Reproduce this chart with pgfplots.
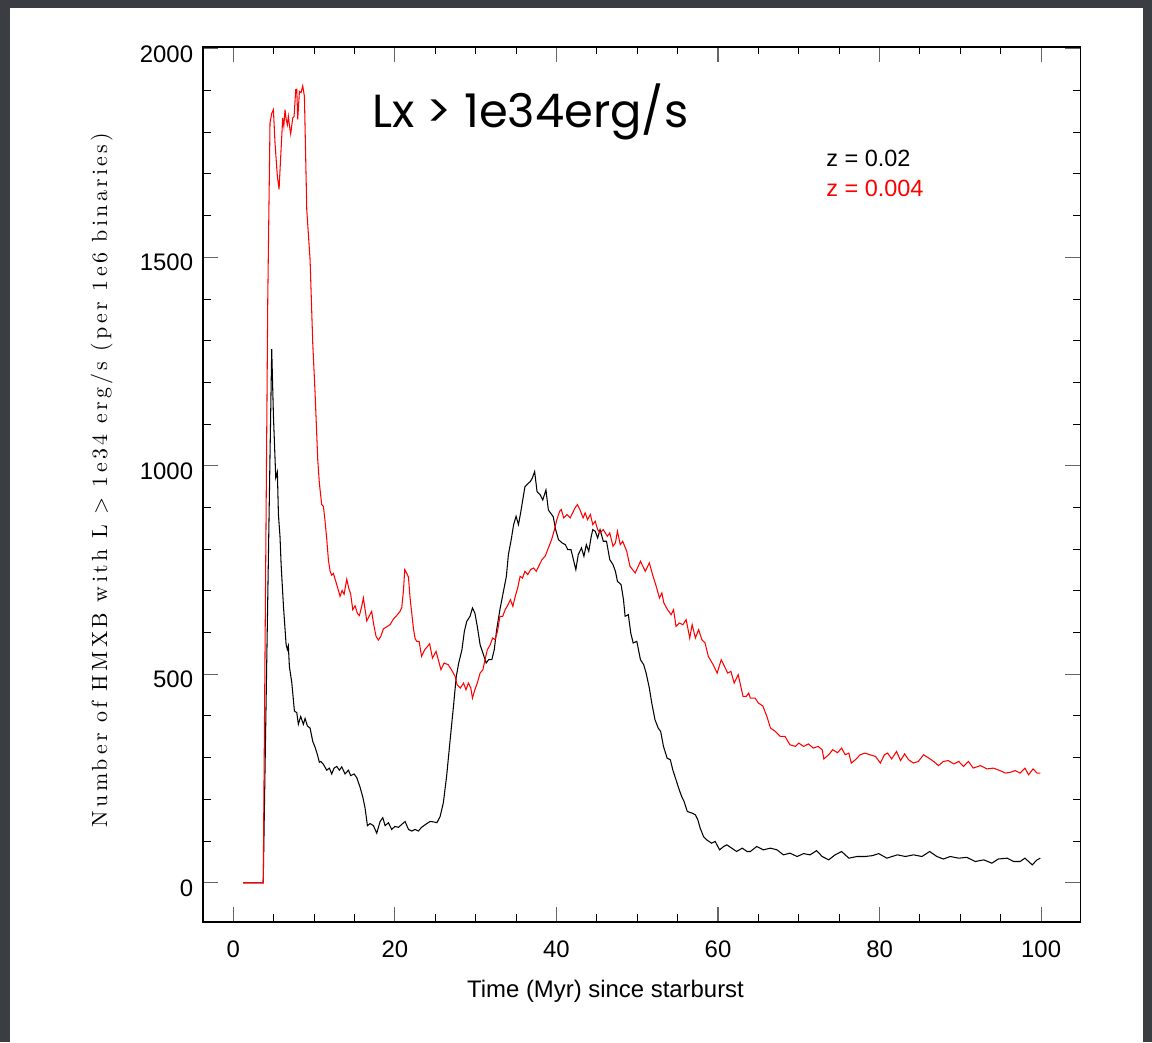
\documentclass[border=0pt]{standalone}
\usepackage{fontspec}
\usepackage{pgfplots}
\pgfplotsset{compat=1.18}
\newfontfamily\helv{Liberation Sans}
\newfontfamily\titlefont{Poppins}
\newfontfamily\lmspaced{lmroman10-regular.otf}[LetterSpace=15]

\begin{document}
\begin{tikzpicture}
% slide background (units of reference pixels)
\begin{scope}[x=0.025cm, y=0.025cm]
\fill[fill={rgb,255:red,58;green,61;blue,66}] (0,0) rectangle (1152,1042);
\fill[white] (10,0) rectangle (1143,1034);
\end{scope}

\begin{axis}[
  at={(5.075cm,3.0cm)}, anchor=south west,
  scale only axis,
  width=21.925cm, height=21.875cm,
  xmin=-3.75, xmax=104.85,
  ymin=-94, ymax=2005,
  xtick={0,20,...,100},
  ytick={0,500,...,2000},
  minor x tick num=3,
  minor y tick num=4,
  major tick length=0.375cm,
  minor tick length=0.19cm,
  major tick style={line width=0.8pt, black!60},
  minor tick style={line width=0.7pt, black},
  axis line style={line width=1.1pt},
  tick label style={font=\helv\fontsize{17}{20}\selectfont},
  /pgf/number format/assume math mode=true,
  /pgf/number format/1000 sep={},
  yticklabel style={xshift=-0.125cm, yshift=-0.125cm},
  xticklabel style={yshift=-0.35cm},
  clip=true,
]
% z = 0.02
\addplot[black, line width=0.75pt] coordinates {
(1.2,0) (3.7,0) (4.75,1280) (4.96,1122) (5.25,971) (5.45,985) (5.58,884) (5.78,829)
(5.91,765) (6.2,664) (6.53,572) (6.69,559) (6.81,568) (6.94,518) (7.23,481) (7.56,412)
(7.85,408) (8.05,380) (8.34,399) (8.67,380) (8.88,394) (9.17,376) (9.5,371) (9.83,339)
(10.12,325) (10.41,307) (10.65,289) (10.82,291) (11.15,284) (11.56,270) (11.89,275)
(12.18,261) (12.47,275) (12.8,279) (13.13,270) (13.42,278) (13.83,261) (14.25,270)
(14.53,257) (14.95,261) (15.28,252) (15.69,229) (16.02,206) (16.31,179) (16.6,137)
(16.93,142) (17.34,137) (17.75,119) (18.17,147) (18.5,156) (18.79,137) (19.2,144)
(19.6,128) (20.0,135) (20.44,133) (20.85,140) (21.26,147) (21.68,128) (22.09,124)
(22.5,128) (22.9,124) (23.3,133) (23.95,142) (24.36,147) (24.8,146) (25.2,144)
(25.6,159) (26.0,192) (26.4,255) (26.8,335) (27.25,423) (27.6,495) (27.9,527)
(28.3,559) (28.6,603) (28.9,627) (29.3,639) (29.6,659) (29.9,647) (30.2,615)
(30.55,571) (30.96,547) (31.3,527) (31.6,535) (32.0,535) (32.3,559) (32.6,607)
(33.0,655) (33.4,695) (33.8,735) (34.05,787) (34.4,823) (34.7,859) (35.0,879)
(35.3,859) (35.6,891) (35.8,915) (36.1,950) (36.5,958) (36.75,962) (37.0,970)
(37.3,986) (37.6,938) (38.0,930) (38.3,918) (38.7,942) (39.0,894) (39.3,886)
(39.6,878) (39.9,847) (40.25,823) (40.7,815) (41.1,811) (41.4,799) (41.8,799)
(42.1,775) (42.4,751) (42.7,787) (43.1,803) (43.4,783) (43.7,811) (44.0,795)
(44.3,830) (44.5,847) (44.8,843) (45.1,827) (45.4,847) (45.8,819) (46.2,819)
(46.6,775) (47.0,763) (47.3,747) (47.55,723) (48.0,715) (48.3,679) (48.5,639)
(48.9,643) (49.2,599) (49.5,575) (49.95,579) (50.4,535) (50.8,523) (51.1,503)
(51.5,467) (51.8,431) (52.2,391) (52.6,371) (52.9,363) (53.25,327) (53.7,299)
(54.1,295) (54.4,271) (54.8,247) (55.2,223) (55.5,207) (55.8,195) (56.2,171)
(56.8,167) (57.2,163) (57.5,151) (57.8,131) (58.2,111) (58.6,103) (59.2,95)
(59.65,99) (60.2,79) (60.7,87) (61.1,91) (61.7,83) (62.3,75) (63.0,83) (63.6,75)
(64.0,75) (64.8,87) (65.6,79) (66.5,83) (67.3,79) (68.1,67) (68.9,71) (69.8,63)
(70.6,70) (71.4,67) (72.2,77) (72.9,63) (73.7,55) (74.5,67) (75.3,75) (76.2,59)
(77.2,63) (78.2,63) (79.1,65) (79.9,70) (80.9,59) (82.2,67) (83.2,63) (84.2,67)
(85.25,63) (86.2,75) (87.1,63) (87.9,57) (88.75,63) (89.8,59) (90.8,61) (91.85,51)
(92.9,55) (93.9,47) (94.7,57) (95.8,59) (96.6,51) (97.4,51) (98.0,59) (98.9,43)
(99.5,55) (99.9,59)
};
% z = 0.004
\addplot[red, line width=0.75pt] coordinates {
(1.2,0) (3.7,0) (4.26,1397) (4.54,1822) (4.75,1845) (4.96,1854) (5.16,1774) (5.45,1694)
(5.66,1663) (5.78,1710) (5.95,1774) (6.11,1834) (6.25,1815) (6.4,1854) (6.55,1830)
(6.69,1818) (6.81,1838) (6.95,1815) (7.1,1796) (7.35,1834) (7.52,1838) (7.72,1902)
(7.85,1903) (7.97,1831) (8.18,1898) (8.38,1895) (8.59,1911) (8.8,1886) (9.09,1614)
(9.5,1494) (9.83,1294) (10.12,1174) (10.45,1014) (10.65,958) (10.94,907) (11.15,903)
(11.36,866) (11.56,825) (11.77,774) (11.98,747) (12.18,738) (12.39,742) (12.6,728)
(12.88,710) (13.21,687) (13.46,701) (13.71,692) (14.04,728) (14.29,706) (14.53,692)
(14.78,655) (15.07,664) (15.36,646) (15.61,641) (15.9,664) (16.1,683) (16.31,655)
(16.52,628) (16.85,641) (17.13,651) (17.34,623) (17.67,591) (17.96,582) (18.25,591)
(18.58,609) (19.0,614) (19.4,619) (19.8,632) (20.23,641) (20.64,651) (20.85,660)
(21.06,701) (21.22,751) (21.47,742) (21.68,733) (21.88,683) (22.09,646) (22.3,609)
(22.5,586) (22.7,579) (23.0,579) (23.3,543) (23.7,559) (24.3,573) (24.65,539)
(25.1,555) (25.7,511) (26.1,527) (26.6,523) (27.0,511) (27.45,495) (27.7,475)
(28.1,467) (28.5,479) (28.8,463) (29.1,479) (29.4,467) (29.6,443) (29.9,463)
(30.2,479) (30.55,503) (30.9,511) (31.2,539) (31.45,559) (31.8,571) (32.1,587)
(32.4,583) (32.7,603) (33.0,639) (33.35,639) (33.65,655) (33.9,663) (34.3,679)
(34.6,663) (34.9,687) (35.2,707) (35.5,735) (35.8,731) (36.1,747) (36.45,739)
(36.8,751) (37.15,755) (37.5,747) (37.9,763) (38.2,775) (38.6,783) (39.0,803)
(39.4,823) (39.7,843) (40.05,871) (40.4,891) (40.6,895) (40.9,875) (41.3,883)
(41.7,875) (42.0,887) (42.3,899) (42.6,907) (42.9,895) (43.3,875) (43.55,887)
(43.85,871) (44.2,883) (44.5,859) (44.8,867) (45.1,847) (45.4,839) (45.8,847)
(46.3,831) (46.6,839) (47.0,807) (47.3,815) (47.55,843) (47.9,811) (48.2,819)
(48.7,795) (49.1,759) (49.75,743) (50.4,771) (51.0,747) (51.5,767) (51.9,739)
(52.35,711) (52.75,683) (53.05,695) (53.3,671) (53.75,655) (54.2,643) (54.5,655)
(54.8,615) (55.2,623) (55.65,619) (56.06,631) (56.5,587) (56.8,619) (57.2,587)
(57.6,607) (58.0,583) (58.4,575) (58.8,543) (59.4,523) (59.9,503) (60.4,535)
(60.8,519) (61.2,503) (61.6,507) (62.0,479) (62.5,499) (63.1,447) (63.5,447)
(63.8,455) (64.0,443) (64.6,443) (65.0,431) (65.55,424) (66.05,399) (66.5,371)
(67.1,363) (67.7,351) (68.3,351) (68.9,331) (69.6,327) (70.0,335) (70.6,327)
(71.2,333) (71.8,323) (72.4,327) (72.9,319) (73.1,297) (73.7,307) (74.2,319)
(74.8,312) (75.3,323) (75.75,307) (76.2,311) (76.5,287) (77.0,295) (77.6,307)
(78.2,311) (78.8,307) (79.5,303) (80.1,287) (80.6,307) (81.0,311) (81.5,297)
(82.1,315) (82.6,293) (83.1,309) (83.6,295) (84.2,287) (84.8,291) (85.45,307)
(86.1,299) (86.7,291) (87.3,281) (87.9,291) (88.5,293) (89.2,285) (89.8,291)
(90.4,279) (91.0,291) (91.6,275) (92.5,281) (93.3,273) (94.1,275) (94.9,269)
(95.6,263) (96.2,265) (96.8,269) (97.4,263) (98.0,275) (98.45,259) (99.0,273)
(99.5,263) (99.9,263)
};
\end{axis}

% annotations (units of reference pixels, y up)
\begin{scope}[x=0.025cm, y=0.025cm]
\node[anchor=base west, inner sep=0, font=\titlefont\fontsize{33}{36}\selectfont]
  at (372,914) {Lx > 1e34erg/s};
\node[anchor=base west, inner sep=0, font=\helv\fontsize{16.7}{20}\selectfont]
  at (826,875) {z = 0.02};
\node[anchor=base west, inner sep=0, text=red, font=\helv\fontsize{16.7}{20}\selectfont]
  at (826,845) {z = 0.004};
\node[anchor=base, inner sep=0, font=\helv\fontsize{17}{20}\selectfont]
  at (605.5,45) {Time (Myr) since starburst};
\node[rotate=90, anchor=base, inner sep=0, font=\lmspaced\fontsize{15.6}{18}\selectfont]
  at (107,562) {Number of HMXB with L > 1e34 erg/s (per 1e6 binaries)};
\end{scope}
\end{tikzpicture}
\end{document}
